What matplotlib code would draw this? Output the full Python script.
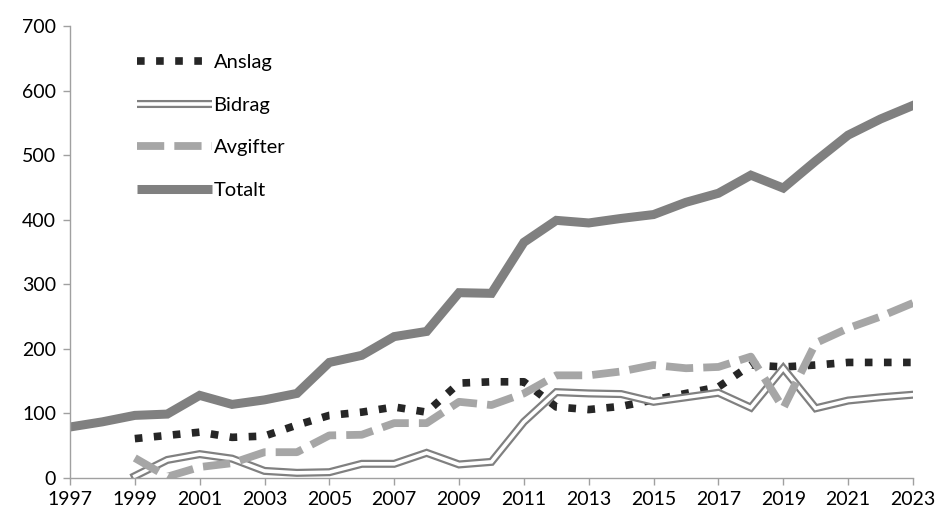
import matplotlib
matplotlib.use("Agg")
import matplotlib.pyplot as plt
from matplotlib.lines import Line2D

plt.rcParams['font.family'] = ['Lato', 'DejaVu Sans']

# Data
years = list(range(1997, 2024))
anslag_years = list(range(1999, 2024))
anslag = [61, 66, 71, 63, 65, 82, 97, 102, 110, 102, 147, 149, 149, 110, 106, 111,
          121, 131, 141, 175, 172, 175, 179, 179, 179]
bidrag_years = list(range(1999, 2024))
bidrag = [3, 28, 37, 30, 11, 8, 9, 22, 22, 39, 21, 25, 87, 133, 131, 130,
          118, 125, 132, 109, 170, 108, 120, 125, 129]
avgifter_years = list(range(1999, 2024))
avgifter = [31, 2, 17, 23, 40, 40, 66, 67, 85, 85, 118, 113, 131, 159, 159, 165,
            175, 170, 172, 188, 108, 209, 232, 250, 271]
totalt = [79, 87, 97, 99, 128, 114, 121, 131, 179, 190, 219, 227, 287, 286, 365, 399,
          395, 402, 408, 427, 441, 469, 449, 491, 531, 556, 577]

C_ANSLAG = '#262626'
C_BIDRAG = '#808080'
C_AVG = '#A6A6A6'
C_TOT = '#808080'

fig = plt.figure(figsize=(9.38, 5.17), dpi=100)
ax = fig.add_axes([0.0746, 0.0754, 0.8987, 0.8743])

ax.plot(anslag_years, anslag, color=C_ANSLAG, lw=5.5, linestyle=(0, (1, 1.5)),
        dash_capstyle='butt')
ax.plot(bidrag_years, bidrag, color=C_BIDRAG, lw=5.8, solid_joinstyle='miter')
ax.plot(bidrag_years, bidrag, color='white', lw=2.6, solid_joinstyle='miter')
ax.plot(avgifter_years, avgifter, color=C_AVG, lw=5.6, linestyle=(0, (3.5, 1.3)),
        dash_capstyle='butt')
ax.plot(years, totalt, color=C_TOT, lw=6.5, solid_joinstyle='miter')

ax.set_xlim(1997, 2023)
ax.set_ylim(0, 700)
ax.set_xticks(range(1997, 2024, 2))
ax.set_yticks(range(0, 701, 100))

for s in ['top', 'right']:
    ax.spines[s].set_visible(False)
for s in ['left', 'bottom']:
    ax.spines[s].set_color('#A0A0A0')
    ax.spines[s].set_linewidth(1.0)
ax.tick_params(axis='both', colors='#A0A0A0', labelcolor='black', labelsize=14,
               length=5, width=1.0, direction='out')
ax.tick_params(axis='y', pad=5)
ax.tick_params(axis='x', pad=4)

h_anslag = Line2D([], [], color=C_ANSLAG, lw=5.5, linestyle=(0, (1, 1.5)))
h_bidrag = (Line2D([], [], color=C_BIDRAG, lw=5.8, solid_capstyle='butt'),
            Line2D([], [], color='white', lw=2.6, solid_capstyle='butt'))
h_avg = Line2D([], [], color=C_AVG, lw=5.6, linestyle=(0, (3.5, 1.3)))
h_tot = Line2D([], [], color=C_TOT, lw=6.5, solid_capstyle='butt')
ax.legend([h_anslag, h_bidrag, h_avg, h_tot], ['Anslag', 'Bidrag', 'Avgifter', 'Totalt'],
          loc='upper left', bbox_to_anchor=(0.058, 0.978), frameon=False,
          fontsize=14.5, handlelength=3.7, handletextpad=0.1, labelspacing=1.26)

fig.savefig('out.png', dpi=100)
